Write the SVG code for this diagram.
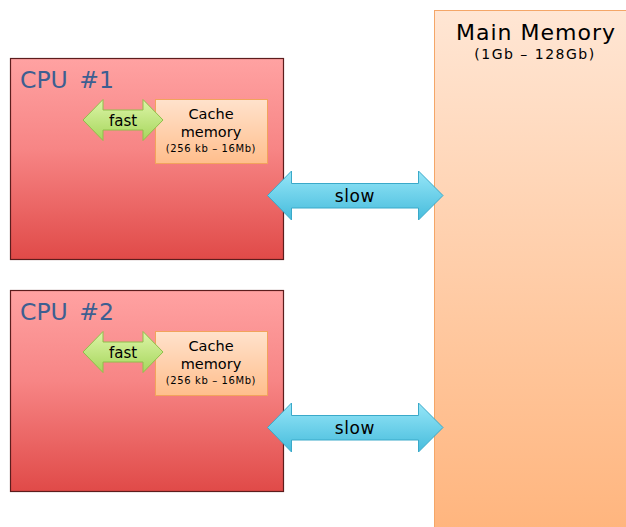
<svg xmlns="http://www.w3.org/2000/svg" width="626" height="527" viewBox="0 0 626 527">
  <style>
    .t { font-family: "DejaVu Sans", Verdana, sans-serif; fill: #000; text-anchor: middle; }
    .cpu-label { font-family: "DejaVu Sans", Verdana, sans-serif; font-size: 23.5px; fill: #3d5f91; word-spacing: 4px; }
    .cpu { fill: url(#cpuGrad); stroke: #5c1d1d; stroke-width: 1.2; }
    .cache { fill: url(#cacheGrad); stroke: #f2a35c; stroke-width: 1; }
    .fast { fill: url(#fastGrad); stroke: #8fc04a; stroke-width: 1; }
    .slow { fill: url(#slowGrad); stroke: #3aa9c9; stroke-width: 1; }
    .small { font-size: 10px; letter-spacing: 0.6px; }
    .body { font-size: 14.5px; }
  </style>
  <defs>
    <linearGradient id="cpuGrad" x1="0" y1="0" x2="0" y2="1">
      <stop offset="0" stop-color="#ffa2a2"/>
      <stop offset="0.45" stop-color="#f78585"/>
      <stop offset="1" stop-color="#e04a48"/>
    </linearGradient>
    <linearGradient id="cacheGrad" x1="0" y1="0" x2="0" y2="1">
      <stop offset="0" stop-color="#ffe2cc"/>
      <stop offset="1" stop-color="#ffbe8c"/>
    </linearGradient>
    <linearGradient id="memGrad" x1="0" y1="0" x2="0" y2="1">
      <stop offset="0" stop-color="#ffe6d4"/>
      <stop offset="1" stop-color="#ffb47c"/>
    </linearGradient>
    <linearGradient id="fastGrad" x1="0" y1="0" x2="0" y2="1">
      <stop offset="0" stop-color="#ddf5a8"/>
      <stop offset="1" stop-color="#a6d65c"/>
    </linearGradient>
    <linearGradient id="slowGrad" x1="0" y1="0" x2="0" y2="1">
      <stop offset="0" stop-color="#96e6f8"/>
      <stop offset="1" stop-color="#46bcdc"/>
    </linearGradient>
  </defs>

  <!-- main memory column -->
  <g id="main-memory">
    <rect x="434.5" y="10.5" width="200" height="530" fill="url(#memGrad)" stroke="#f4a668" stroke-width="1"/>
    <text class="t" x="536" y="39.5" font-size="22" letter-spacing="1">Main Memory</text>
    <text class="t" x="535" y="58.5" font-size="14" letter-spacing="1.5">(1Gb – 128Gb)</text>
  </g>

  <!-- CPU 1 -->
  <g id="cpu1">
    <rect class="cpu" x="10.5" y="58.5" width="273" height="201"/>
    <text class="cpu-label" x="20" y="87.5">CPU #1</text>
  </g>
  <g id="cache1">
    <rect class="cache" x="155.5" y="99.5" width="112" height="64"/>
    <text class="t body" x="211" y="119">Cache</text>
    <text class="t body" x="211" y="137">memory</text>
    <text class="t small" x="211" y="152">(256 kb – 16Mb)</text>
  </g>

  <!-- CPU 2 -->
  <g id="cpu2">
    <rect class="cpu" x="10.5" y="290.5" width="273" height="201"/>
    <text class="cpu-label" x="20" y="319.5">CPU #2</text>
  </g>
  <g id="cache2">
    <rect class="cache" x="155.5" y="331.5" width="112" height="64"/>
    <text class="t body" x="211" y="351">Cache</text>
    <text class="t body" x="211" y="369">memory</text>
    <text class="t small" x="211" y="384">(256 kb – 16Mb)</text>
  </g>

  <!-- double-headed connectors -->
  <g id="connectors">
    <g id="fast1">
      <path class="fast" d="M83,120 L103,99.5 L103,110 L143,110 L143,99.5 L163,120 L143,140.5 L143,130 L103,130 L103,140.5 Z"/>
      <text class="t" x="123" y="125.5" font-size="15">fast</text>
    </g>
    <g id="fast2">
      <path class="fast" d="M83,352 L103,331.5 L103,342 L143,342 L143,331.5 L163,352 L143,372.5 L143,362 L103,362 L103,372.5 Z"/>
      <text class="t" x="123" y="357.5" font-size="15">fast</text>
    </g>
    <g id="slow1">
      <path class="slow" d="M267.5,195.5 L291.5,171 L291.5,183.5 L418.5,183.5 L418.5,171 L443,195.5 L418.5,220 L418.5,208 L291.5,208 L291.5,220 Z"/>
      <text class="t" x="355" y="202" font-size="17" letter-spacing="0.6">slow</text>
    </g>
    <g id="slow2">
      <path class="slow" d="M267.5,427.5 L291.5,403 L291.5,415.5 L418.5,415.5 L418.5,403 L443,427.5 L418.5,452 L418.5,440 L291.5,440 L291.5,452 Z"/>
      <text class="t" x="355" y="434" font-size="17" letter-spacing="0.6">slow</text>
    </g>
  </g>
</svg>
